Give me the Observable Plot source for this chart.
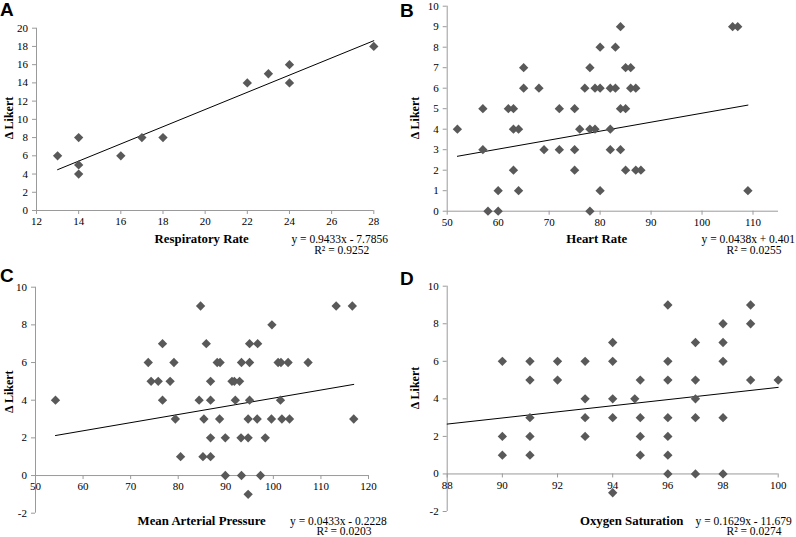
<!DOCTYPE html>
<html><head><meta charset="utf-8">
<script src="https://cdn.jsdelivr.net/npm/d3@7"></script>
<script src="https://cdn.jsdelivr.net/npm/@observablehq/plot@0.6"></script>
<style>
body{margin:0;background:#fff;}
#fig{position:relative;width:796px;height:537px;overflow:hidden;background:#fff;}
#fig > svg{position:absolute;}
</style></head><body><div id="fig"></div>
<script>
// ---- Panel A: Respiratory Rate ----
const respRate   = [13,14,14,14,16,17,18,22,23,24,24,28];
const respLikert = [6,8,5,4,6,8,8,14,15,16,14,18];
const respFit    = [0.9433, -7.7856];
const respFitRange = [13, 28];
const respXTicks = [12,14,16,18,20,22,24,26,28];
const respYTicks = [0,2,4,6,8,10,12,14,16,18,20];

// ---- Panel B: Heart Rate ----
const heartRate   = [52,57,57,58,60,60,62,63,63,64,63,64,65,65,68,69,72,72,75,75,75,76,77,78,78,78,79,79,80,80,80,82,82,82,83,83,84,84,84,85,85,85,86,86,87,87,88,106,107,109];
const heartLikert = [4,5,3,0,0,1,5,5,4,4,2,1,7,6,6,3,5,3,5,3,2,4,6,7,4,0,6,4,8,6,1,6,4,3,8,6,9,5,3,7,5,2,7,6,6,2,2,9,9,1];
const heartFit    = [0.0438, 0.401];
const heartFitRange = [52, 109];
const heartXTicks = [50,60,70,80,90,100,110];
const heartYTicks = [0,1,2,3,4,5,6,7,8,9,10];

// ---- Panel C: Mean Arterial Pressure ----
const mapValue  = [54.2,73.7,74.3,75.8,76.7,76.7,78.3,79.1,79.4,80.5,84.4,84.7,85.2,85.4,85.9,86.8,86.8,86.8,86.8,88.2,88.8,88.7,89.9,89.9,91.3,91.8,92,92.9,93.3,93.2,93.3,95,96.7,95,95,94.7,94.7,94.7,96.6,97.3,98.3,99.7,99.6,101,101.6,103.1,101.5,101.8,103.4,107.3,113.2,116.6,116.9];
const mapLikert = [4,6,5,5,7,4,5,6,3,1,4,9,1,3,7,5,4,2,1,6,6,3,2,0,5,5,4,5,6,2,0,7,7,6,4,3,2,-1,3,0,2,8,3,6,6,6,4,3,3,6,9,9,3];
const mapFit    = [0.0433, -0.2228];
const mapFitRange = [54.2, 116.9];
const mapXTicks = [50,60,70,80,90,100,110,120];
const mapYTicks = [-2,0,2,4,6,8,10];

// ---- Panel D: Oxygen Saturation ----
const oxySat    = [90,90,90,91,91,91,91,91,92,92,93,93,93,93,94,94,94,94,94,95,94.8,95,95,95,96,96,96,96,96,96,96,97,97,97,97,97,98,98,98,98,98,99,99,99,100];
const oxyLikert = [6,2,1,6,5,3,2,1,6,5,6,4,3,2,7,6,4,3,-1,5,4,3,2,1,9,6,5,3,2,1,0,7,5,4,3,0,8,7,6,3,0,9,8,5,5];
const oxyFit    = [0.1629, -11.679];
const oxyFitRange = [88, 100];
const oxyXTicks = [88,90,92,94,96,98,100];
const oxyYTicks = [-2,0,2,4,6,8,10];

const fig = document.getElementById("fig");
const AXIS = "#9a9a9a", DOT = "#595959";

function panel(cfg) {
  const pts = cfg.x.map((x, i) => ({x, y: cfg.y[i]}));
  const trend = cfg.fitRange.map(x => ({x, y: cfg.fit[0] * x + cfg.fit[1]}));
  const plotH = cfg.height - cfg.mt - cfg.mb;
  const off = plotH * (0 - cfg.yDomain[0]) / (cfg.yDomain[1] - cfg.yDomain[0]);
  const p = Plot.plot({
    width: cfg.width, height: cfg.height,
    marginLeft: cfg.ml, marginRight: cfg.mr, marginTop: cfg.mt, marginBottom: cfg.mb,
    x: {domain: cfg.xDomain},
    y: {domain: cfg.yDomain},
    style: {fontFamily: "Liberation Serif", fontSize: "11px", color: "#000", background: "transparent", overflow: "visible"},
    marks: [
      Plot.ruleX([cfg.xDomain[0]], {y1: cfg.yDomain[0], y2: cfg.yDomain[1], stroke: AXIS}),
      Plot.ruleY([0], {x1: cfg.xDomain[0], x2: cfg.xDomain[1], stroke: AXIS}),
      Plot.axisY({ticks: cfg.yTicks, tickSize: 4, tickPadding: 4.5, stroke: AXIS, label: null, tickFormat: d => String(d)}),
      Plot.axisX({ticks: cfg.xTicks, tickSize: 4, tickPadding: 3, stroke: AXIS, label: null, dy: -off, tickFormat: d => String(d)}),
      Plot.line(trend, {x: "x", y: "y", stroke: "#000", strokeWidth: 1}),
      Plot.dot(pts, {x: "x", y: "y", symbol: "diamond2", r: 4.2, fill: DOT, stroke: "none"})
    ]
  });
  p.style.left = cfg.left + "px";
  p.style.top = cfg.top + "px";
  fig.append(p);
}

panel({x: respRate, y: respLikert, fit: respFit, fitRange: respFitRange, xDomain: [12, 28], yDomain: [0, 20], xTicks: respXTicks, yTicks: respYTicks,
  left: 0, top: 0, width: 398, height: 262, ml: 36, mr: 24.7, mt: 27.7, mb: 52});
panel({x: heartRate, y: heartLikert, fit: heartFit, fitRange: heartFitRange, xDomain: [50, 115], yDomain: [0, 10], xTicks: heartXTicks, yTicks: heartYTicks,
  left: 398, top: 0, width: 398, height: 262, ml: 48.7, mr: 18, mt: 5.7, mb: 51.3});
panel({x: mapValue, y: mapLikert, fit: mapFit, fitRange: mapFitRange, xDomain: [50, 120], yDomain: [-2, 10], xTicks: mapXTicks, yTicks: mapYTicks,
  left: 0, top: 262, width: 398, height: 275, ml: 35, mr: 30, mt: 24.7, mb: 24.3});
panel({x: oxySat, y: oxyLikert, fit: oxyFit, fitRange: oxyFitRange, xDomain: [88, 100], yDomain: [-2, 10], xTicks: oxyXTicks, yTicks: oxyYTicks,
  left: 398, top: 262, width: 398, height: 275, ml: 48.7, mr: 18.3, mt: 23.7, mb: 26});

// ---- text overlay ----
const letters = [["A", 0, 16], ["B", 400, 17], ["C", 0, 281.7], ["D", 400, 285]];
const xTitles = [["Respiratory Rate", 201.7, 243], ["Heart Rate", 596.7, 243], ["Mean Arterial Pressure", 201.7, 525], ["Oxygen Saturation", 631.7, 525]];
const yTitles = [[12.5, 118], [419, 118], [12.5, 391.7], [419, 388]];
const eqs = [["y = 0.9433x - 7.7856", 388, 242.5], ["y = 0.0438x + 0.401", 795, 242.5], ["y = 0.0433x - 0.2228", 386.7, 524.5], ["y = 0.1629x - 11.679", 791.7, 524.5]];
const r2s = [["R² = 0.9252", 341.7, 253.5], ["R² = 0.0255", 754, 253.5], ["R² = 0.0203", 344, 535], ["R² = 0.0274", 754, 535]];

const ov = d3.create("svg").attr("width", 796).attr("height", 537).style("left", "0px").style("top", "0px").style("pointer-events", "none");
ov.selectAll(".l").data(letters).join("text").attr("x", d => d[1]).attr("y", d => d[2])
  .attr("font-family", "Liberation Sans").attr("font-weight", "bold").attr("font-size", 19).text(d => d[0]);
ov.selectAll(".xt").data(xTitles).join("text").attr("x", d => d[1]).attr("y", d => d[2]).attr("text-anchor", "middle")
  .attr("font-family", "Liberation Serif").attr("font-weight", "bold").attr("font-size", 12.8).text(d => d[0]);
ov.selectAll(".yt").data(yTitles).join("text").attr("transform", d => `translate(${d[0]},${d[1]}) rotate(-90)`).attr("text-anchor", "middle")
  .attr("font-family", "Liberation Serif").attr("font-weight", "bold").attr("font-size", 12).text("Δ Likert");
ov.selectAll(".eq").data(eqs).join("text").attr("x", d => d[1]).attr("y", d => d[2]).attr("text-anchor", "end")
  .attr("font-family", "Liberation Serif").attr("font-size", 11.5).text(d => d[0]);
ov.selectAll(".r2").data(r2s).join("text").attr("x", d => d[1]).attr("y", d => d[2]).attr("text-anchor", "middle")
  .attr("font-family", "Liberation Serif").attr("font-size", 11.5).text(d => d[0]);
fig.append(ov.node());
</script></body></html>
